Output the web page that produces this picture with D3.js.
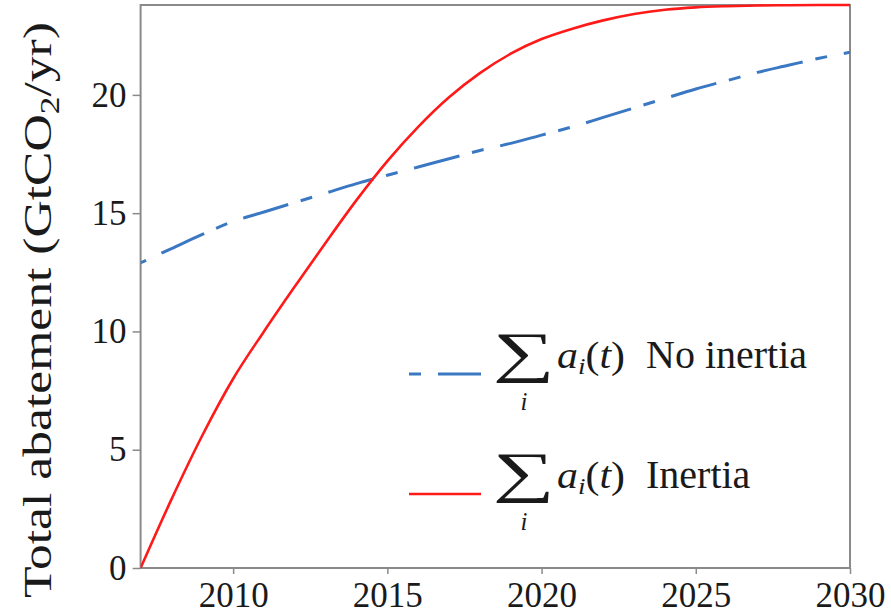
<!DOCTYPE html>
<html>
<head>
<meta charset="utf-8">
<script src="https://cdn.jsdelivr.net/npm/d3@7"></script>
</head>
<body style="margin:0">
<svg id="chart" width="891" height="614" font-family="Liberation Serif"></svg>
<script>
// Total abatement per year, GtCO2/yr
const years = [2007, 2008, 2009, 2010, 2011, 2012, 2013, 2014, 2015, 2016, 2017, 2018,
               2019, 2020, 2021, 2022, 2023, 2024, 2025, 2026, 2027, 2028, 2029, 2030];
const noInertia = [12.9, 13.5, 14.1, 14.65, 15.05, 15.45, 15.85, 16.25, 16.6, 16.95, 17.3, 17.65,
                   17.95, 18.3, 18.65, 19.05, 19.45, 19.85, 20.25, 20.6, 20.95, 21.25, 21.55, 21.8];
const inertia = [0, 2.9, 5.6, 8.0, 10.0, 11.9, 13.75, 15.55, 17.2, 18.65, 19.9, 20.92,
                 21.74, 22.36, 22.8, 23.15, 23.42, 23.6, 23.7, 23.75, 23.78, 23.79, 23.8, 23.8];
const xTicks = [2010, 2015, 2020, 2025, 2030];
const yTicks = [0, 5, 10, 15, 20];
const seriesNames = ["No inertia", "Inertia"];

const ink = "#1a1a1a";

const svg = d3.select("#chart");
const plot = { left: 140.6, right: 850, top: 5, bottom: 568 };

const x = d3.scaleLinear().domain([2007, 2030]).range([plot.left, plot.right]);
const y = d3.scaleLinear().domain([0, 23.8]).range([plot.bottom, plot.top]);

const frameColor = "#8a8a8a";
const blue = "#3b78c3";
const red = "#ff1a1a";
const dashDot = "47,13,12,17";

// clip so the curves stay inside the frame
svg.append("clipPath").attr("id", "plotclip")
  .append("rect")
  .attr("x", plot.left).attr("y", plot.top - 2)
  .attr("width", plot.right - plot.left).attr("height", plot.bottom - plot.top + 2);

// x axis
const xAxis = svg.append("g")
  .attr("transform", `translate(0,${plot.bottom})`)
  .call(d3.axisBottom(x).tickValues(xTicks).tickFormat(d3.format("d")).tickSize(6).tickPadding(8));
xAxis.attr("font-family", "Liberation Serif").attr("font-size", 35);
xAxis.select(".domain").remove();
xAxis.selectAll(".tick line").attr("stroke", frameColor).attr("stroke-width", 1.5);
xAxis.selectAll(".tick text")
  .attr("font-family", "Liberation Serif").style("font-family", "Liberation Serif")
  .attr("font-size", 35).attr("fill", ink);

// y axis
const yAxis = svg.append("g")
  .attr("transform", `translate(${plot.left},0)`)
  .call(d3.axisLeft(y).tickValues(yTicks).tickFormat(d3.format("d")).tickSize(8).tickPadding(6));
yAxis.attr("font-family", "Liberation Serif").attr("font-size", 35);
yAxis.select(".domain").remove();
yAxis.selectAll(".tick line").attr("stroke", frameColor).attr("stroke-width", 1.5);
yAxis.selectAll(".tick text")
  .attr("font-family", "Liberation Serif").style("font-family", "Liberation Serif")
  .attr("font-size", 35).attr("fill", ink);

// frame
svg.append("rect")
  .attr("x", plot.left).attr("y", plot.top)
  .attr("width", plot.right - plot.left).attr("height", plot.bottom - plot.top)
  .attr("fill", "none").attr("stroke", frameColor).attr("stroke-width", 2);

// y axis title
const yTitle = svg.append("text")
  .attr("transform", "translate(51,310) rotate(-90)")
  .attr("text-anchor", "middle")
  .attr("textLength", 576)
  .attr("lengthAdjust", "spacingAndGlyphs")
  .attr("font-family", "Liberation Serif").style("font-family", "Liberation Serif")
  .attr("font-size", 41).attr("fill", ink);
yTitle.append("tspan").text("Total abatement (GtCO");
yTitle.append("tspan").attr("font-size", 28).attr("dy", 8).text("2");
yTitle.append("tspan").attr("dy", -8).text("/yr)");

// curves
const line = d3.line().x((d, i) => x(years[i])).y(d => y(d)).curve(d3.curveMonotoneX);
const curves = svg.append("g").attr("clip-path", "url(#plotclip)");

curves.append("path")
  .datum(noInertia)
  .attr("d", line)
  .attr("fill", "none")
  .attr("stroke", blue)
  .attr("stroke-width", 3)
  .attr("stroke-dasharray", dashDot)
  .attr("stroke-dashoffset", 66);

curves.append("path")
  .datum(inertia)
  .attr("d", line)
  .attr("fill", "none")
  .attr("stroke", red)
  .attr("stroke-width", 2.6);

// legend
const legendRows = [
  { name: seriesNames[0], color: blue, dash: dashDot, offset: 60, base: 368 },
  { name: seriesNames[1], color: red, dash: null, offset: 0, base: 488 }
];
const legend = svg.append("g");
legendRows.forEach(r => {
  const g = legend.append("g");
  g.append("line")
    .attr("x1", 409).attr("x2", 481)
    .attr("y1", r.base + 6).attr("y2", r.base + 6)
    .attr("stroke", r.color)
    .attr("stroke-width", r.dash ? 3 : 2.6)
    .attr("stroke-dasharray", r.dash)
    .attr("stroke-dashoffset", r.offset);

  // summation sign with its index below
  g.append("text")
    .attr("transform", `translate(523.5,${r.base + 3}) scale(1.55,1)`)
    .attr("text-anchor", "middle")
    .attr("font-family", "Liberation Serif").style("font-family", "Liberation Serif")
    .attr("font-size", 56).attr("fill", ink)
    .text("\u2211");
  g.append("text")
    .attr("x", 524).attr("y", r.base + 42)
    .attr("text-anchor", "middle")
    .attr("font-family", "Liberation Serif").style("font-family", "Liberation Serif")
    .attr("font-size", 25).attr("font-style", "italic").attr("fill", ink)
    .text("i");

  const m = g.append("text").attr("x", 557).attr("y", r.base)
    .attr("textLength", 68).attr("lengthAdjust", "spacingAndGlyphs")
    .attr("font-family", "Liberation Serif").style("font-family", "Liberation Serif")
    .attr("font-size", 37).attr("fill", ink);
  m.append("tspan").attr("font-style", "italic").text("a");
  m.append("tspan").attr("font-style", "italic").attr("font-size", 24).attr("dy", 6).text("i");
  m.append("tspan").attr("dy", -6).text("(");
  m.append("tspan").attr("font-style", "italic").text("t");
  m.append("tspan").text(")");

  g.append("text")
    .attr("x", 646).attr("y", r.base)
    .attr("font-family", "Liberation Serif").style("font-family", "Liberation Serif")
    .attr("font-size", 40).attr("fill", ink)
    .text(r.name);
});
</script>
</body>
</html>
